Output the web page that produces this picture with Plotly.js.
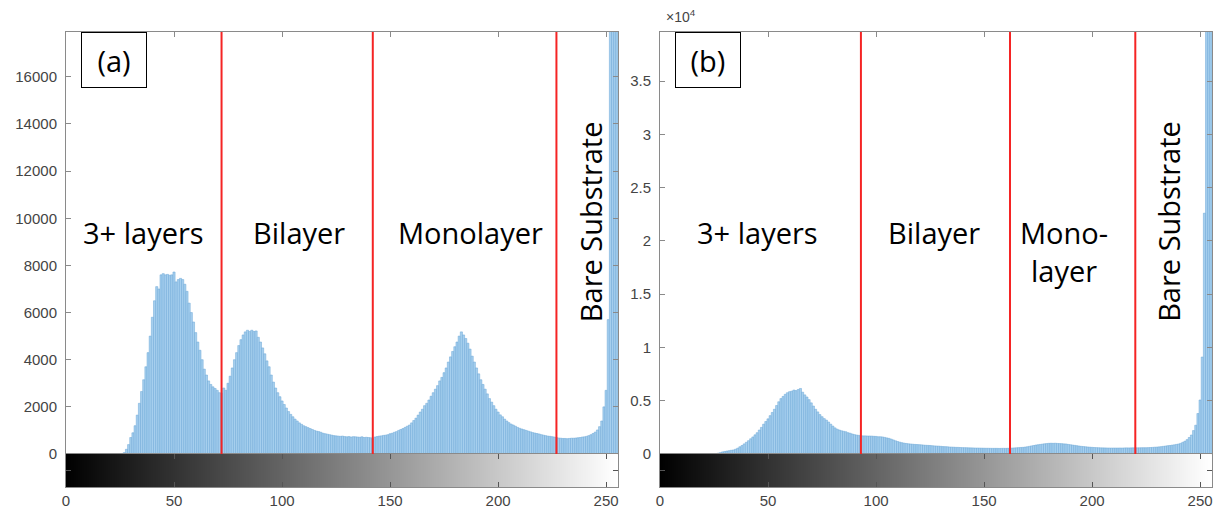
<!DOCTYPE html>
<html>
<head>
<meta charset="utf-8">
<script src="https://cdn.plot.ly/plotly-3.0.1.min.js"></script>
<style>
  html, body { margin: 0; padding: 0; background: #fff; }
  #chart { width: 1217px; height: 511px; }
</style>
</head>
<body>
<div id="chart"></div>
<script>
// Gray levels of an 8-bit image (histogram bins)
const grayLevels = Array.from({ length: 256 }, (_, i) => i);

// Pixel counts per gray level, image (a)
const countsA = [
  0,0,0,0,0,0,0,0,0,0,
  0,0,0,0,0,0,0,0,0,0,
  0,0,0,0,0,0,10,60,200,400,
  700,900,1200,1650,2150,2650,3150,3700,4300,5000,
  5800,6500,7100,7000,7600,7650,7600,7620,7580,7600,
  7720,7300,7400,7450,7400,7200,6900,6400,6000,5600,
  5150,4750,4400,4000,3600,3350,3100,2950,2850,2780,
  2700,2600,2580,2800,2700,3000,3300,3650,4000,4300,
  4600,4850,5050,5180,5250,5200,5250,5200,5220,4950,
  4750,4500,4250,3950,3700,3350,3050,2800,2600,2430,
  2250,2100,1950,1800,1680,1580,1480,1400,1320,1260,
  1200,1160,1120,1080,1040,1000,970,950,920,880,
  860,840,820,800,780,770,760,750,760,740,
  730,740,720,735,730,720,710,730,700,710,
  700,690,650,720,740,760,770,790,800,820,
  860,880,920,950,1000,1040,1080,1130,1180,1230,
  1320,1420,1520,1650,1780,1900,2050,2150,2290,2450,
  2600,2750,2900,3100,3250,3450,3650,3900,4120,4350,
  4550,4750,5000,5180,5050,4900,4700,4450,4150,3900,
  3650,3400,3150,2950,2750,2550,2350,2200,2050,1900,
  1780,1660,1580,1480,1400,1330,1270,1230,1180,1130,
  1090,1060,1030,1000,970,940,910,890,870,850,
  820,800,780,760,750,735,720,700,680,670,
  660,660,650,660,670,670,680,690,700,720,
  730,750,780,820,870,930,1020,1160,1400,2000,
  2700,5700,19000,24000,30000,36000
];

// Pixel counts per gray level, image (b)
const countsB = [
  0,0,0,0,0,0,0,0,0,0,
  0,0,0,0,0,0,0,0,0,0,
  0,0,0,0,0,20,40,80,130,200,
  240,280,310,350,380,450,550,680,800,950,
  1100,1250,1430,1600,1800,2000,2250,2500,2800,3050,
  3300,3600,3900,4200,4550,4900,5200,5400,5600,5750,
  5850,5900,6000,5950,6050,6150,5800,5550,5350,5100,
  4800,4500,4200,3950,3700,3500,3320,3180,3000,2800,
  2620,2450,2330,2250,2180,2130,2090,2000,1950,1880,
  1820,1780,1750,1720,1700,1700,1690,1690,1680,1660,
  1650,1620,1620,1600,1560,1510,1470,1400,1320,1240,
  1170,1110,1060,1020,990,960,940,920,900,890,
  875,860,840,820,810,800,780,760,750,740,
  720,700,690,680,660,650,640,625,620,610,
  600,595,590,580,575,570,563,560,555,550,
  545,540,540,535,530,530,530,525,530,535,
  530,540,545,555,570,585,600,615,625,650,
  680,720,760,800,845,870,900,930,960,980,
  1000,1010,1000,1010,990,980,970,950,940,900,
  870,840,810,780,750,720,700,680,660,640,
  625,610,600,590,580,575,570,565,563,560,
  563,560,560,565,560,570,575,570,575,580,
  585,580,585,590,590,590,600,610,620,640,
  650,670,690,720,750,780,800,830,860,900,
  940,1000,1100,1200,1350,1550,1780,2200,2700,3800,
  5070,9100,22600,45000,60000,70000
];

// Class boundaries (gray level) drawn as red lines
const thresholdsA = [72, 142, 227];
const thresholdsB = [93, 162, 220];

// Count axis ticks
const countTicksA = [0, 2000, 4000, 6000, 8000, 10000, 12000, 14000, 16000];
const countTickTextA = ['0', '2000', '4000', '6000', '8000', '10000', '12000', '14000', '16000'];
const countTicksB = [0, 5000, 10000, 15000, 20000, 25000, 30000, 35000];
const countTickTextB = ['0', '0.5', '1', '1.5', '2', '2.5', '3', '3.5'];
const countMaxA = 17900;
const countMaxB = 39600;

// Gray-level axis ticks
const levelTicks = [0, 50, 100, 150, 200, 250];
const levelTickText = ['0', '50', '100', '150', '200', '250'];

// Region labels
const regionLabelsA = [
  { text: '3+ layers', level: 36, count: 9400 },
  { text: 'Bilayer', level: 108, count: 9400 },
  { text: 'Monolayer', level: 187, count: 9400 }
];
const regionLabelsB = [
  { text: '3+ layers', level: 45, count: 20800 },
  { text: 'Bilayer', level: 127, count: 20800 },
  { text: 'Mono-<br>layer', level: 187, count: 19000 }
];
const substrateLabel = 'Bare Substrate';
const substrateA = { level: 242.5, count: 9870 };
const substrateB = { level: 235, count: 21850 };

// ---- page geometry (pixels) ----
const W = 1217, H = 511;
const fx = p => p / W;
const fy = p => 1 - p / H;
const panels = [
  { left: 66, right: 618 },
  { left: 660, right: 1212 }
];
const histTop = 32, zeroLine = 454, stripBottom = 487;

const barColor = '#a6cfee';
const barEdge = '#6aa6d6';
const frameColor = '#8a8a8a';
const tickFont = { family: 'Liberation Sans, Arial, sans-serif', size: 15, color: '#444444' };
const labelFont = { family: 'Open Sans, sans-serif', size: 29, color: '#000000' };

function histogramTrace(counts, xa, ya) {
  return {
    type: 'bar', x: grayLevels, y: counts, xaxis: xa, yaxis: ya,
    width: 1,
    marker: { color: barColor, line: { color: barEdge, width: 0.5 } },
    hoverinfo: 'x+y', showlegend: false
  };
}
function stripTrace(xa, ya) {
  return {
    type: 'heatmap', x: grayLevels, y: [0], z: [grayLevels],
    xaxis: xa, yaxis: ya, zmin: 0, zmax: 255,
    colorscale: [[0, '#000000'], [1, '#ffffff']],
    showscale: false, hoverinfo: 'x'
  };
}

const data = [
  histogramTrace(countsA, 'x', 'y'),
  stripTrace('x2', 'y2'),
  histogramTrace(countsB, 'x3', 'y3'),
  stripTrace('x4', 'y4')
];

function histX(p) {
  return {
    domain: [fx(p.left), fx(p.right)], range: [0, 255.5],
    side: 'top', ticks: 'inside', ticklen: 5, tickcolor: frameColor,
    tickvals: levelTicks, showticklabels: false,
    showline: true, mirror: true, linecolor: frameColor, linewidth: 1,
    showgrid: false, zeroline: false, fixedrange: true
  };
}
function histY(p, maxCount, tickvals, ticktext) {
  return {
    domain: [fy(zeroLine), fy(histTop)], range: [0, maxCount],
    ticks: 'inside', ticklen: 5, tickcolor: frameColor,
    tickvals: tickvals, ticktext: ticktext, tickfont: tickFont, ticklabelstandoff: 5,
    showline: true, mirror: 'ticks', linecolor: frameColor, linewidth: 1,
    showgrid: false, zeroline: false, fixedrange: true
  };
}
function stripX(p) {
  return {
    domain: [fx(p.left), fx(p.right)], range: [0, 255.5],
    ticks: 'inside', ticklen: 5, tickcolor: '#555555',
    tickvals: levelTicks, ticktext: levelTickText, tickfont: tickFont, ticklabelstandoff: 0,
    showline: true, mirror: 'ticks', linecolor: frameColor, linewidth: 1,
    showgrid: false, zeroline: false, fixedrange: true
  };
}
function stripY() {
  return {
    domain: [fy(stripBottom), fy(zeroLine)], range: [-0.5, 0.5],
    ticks: 'inside', ticklen: 5, tickcolor: '#555555', tickvals: [0],
    showticklabels: false,
    showline: true, mirror: 'ticks', linecolor: frameColor, linewidth: 1,
    showgrid: false, zeroline: false, fixedrange: true
  };
}

const shapes = [];
function addThresholds(levels, xref, yref) {
  levels.forEach(v => shapes.push({
    type: 'line', xref: xref, yref: yref + ' domain',
    x0: v, x1: v, y0: 0, y1: 1,
    line: { color: '#f52424', width: 2 }
  }));
}
addThresholds(thresholdsA, 'x', 'y');
addThresholds(thresholdsB, 'x3', 'y3');

const annotations = [];
function addRegionLabels(labels, xref, yref) {
  labels.forEach(l => annotations.push({
    text: l.text, x: l.level, y: l.count, xref: xref, yref: yref,
    showarrow: false, font: labelFont, xanchor: 'center', yanchor: 'middle'
  }));
}
addRegionLabels(regionLabelsA, 'x', 'y');
addRegionLabels(regionLabelsB, 'x3', 'y3');
[[substrateA, 'x', 'y'], [substrateB, 'x3', 'y3']].forEach(([s, xr, yr]) => annotations.push({
  text: substrateLabel, x: s.level, y: s.count, xref: xr, yref: yr,
  textangle: -90, showarrow: false, font: labelFont
}));

// Panel tags in boxes
[['(a)', 81], ['(b)', 675]].forEach(([tag, left]) => annotations.push({
  text: tag, xref: 'paper', yref: 'paper', x: fx(left), y: fy(histTop),
  xanchor: 'left', yanchor: 'top', showarrow: false,
  width: 64, height: 54, borderpad: 0, align: 'center', valign: 'middle',
  bordercolor: '#000000', borderwidth: 1, bgcolor: '#ffffff', font: labelFont
}));

// Exponent of the (b) count axis
annotations.push({
  text: '\u00d710<sup>4</sup>', xref: 'paper', yref: 'paper',
  x: fx(664), y: fy(16), xanchor: 'left', yanchor: 'middle',
  showarrow: false, font: { family: tickFont.family, size: 14, color: '#444444' }
});

const layout = {
  width: W, height: H,
  margin: { l: 0, r: 0, t: 0, b: 0 },
  paper_bgcolor: '#ffffff', plot_bgcolor: '#ffffff',
  bargap: 0, showlegend: false,
  xaxis: histX(panels[0]), yaxis: histY(panels[0], countMaxA, countTicksA, countTickTextA),
  xaxis2: stripX(panels[0]), yaxis2: stripY(),
  xaxis3: histX(panels[1]), yaxis3: histY(panels[1], countMaxB, countTicksB, countTickTextB),
  xaxis4: stripX(panels[1]), yaxis4: stripY(),
  shapes: shapes, annotations: annotations
};
layout.xaxis.anchor = 'y'; layout.yaxis.anchor = 'x';
layout.xaxis2.anchor = 'y2'; layout.yaxis2.anchor = 'x2';
layout.xaxis3.anchor = 'y3'; layout.yaxis3.anchor = 'x3';
layout.xaxis4.anchor = 'y4'; layout.yaxis4.anchor = 'x4';

Plotly.newPlot('chart', data, layout, { displayModeBar: false, staticPlot: true });
</script>
</body>
</html>
